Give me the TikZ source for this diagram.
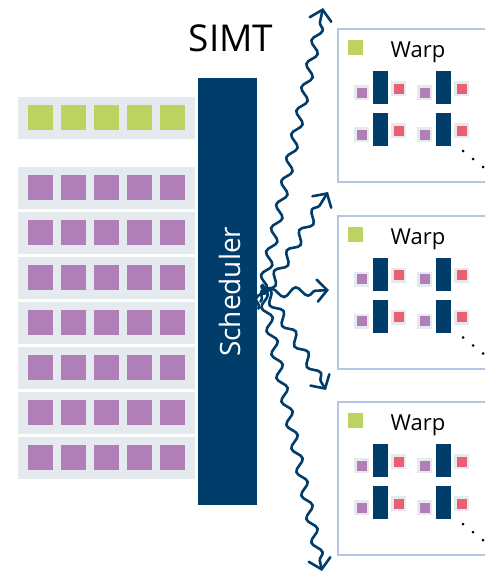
\documentclass[tikz,border=0pt]{standalone}
\usepackage{fontspec}
\setmainfont{Open Sans}
\usepackage{tikz}
\usetikzlibrary{arrows.meta, calc, positioning, decorations.pathmorphing}
\usepackage{xcolor}
\definecolor{navy}{HTML}{003D6B}
\definecolor{leaf}{HTML}{BCD35F}
\definecolor{lilac}{HTML}{B07FB8}
\definecolor{rose}{HTML}{EA5F74}
\definecolor{mist}{HTML}{E5EAEF}
\definecolor{frame}{HTML}{B4C5E6}
\tikzset{
    wave/.style={draw=navy, line width=2.6pt, line cap=round, -{Straight Barb[length=10pt,width=22pt,line cap=round]},
        decorate, decoration={snake, amplitude=4.5pt, segment length=24pt, pre length=2pt, post length=8pt}},
    warpbox/.style={draw=frame, line width=2, anchor=north west, minimum width=160, minimum height=153, inner sep=0},
}

\begin{document}
\begin{tikzpicture}[x=1pt, y=-1pt]
    \useasboundingbox (0,0) rectangle (485,573);
    \clip (0,0) rectangle (485,573);
    % register rows
    \fill[mist] (18,97) rectangle (195,139);
    \foreach \i in {0,...,4}
        \fill[leaf] (28+33*\i,105) rectangle ++(25,25);
    \foreach \j in {0,...,6} {
        \fill[mist] (18,167+45*\j) rectangle ++(177,42);
        \foreach \i in {0,...,4}
            \fill[lilac] (28+33*\i,175+45*\j) rectangle ++(25,25);
    }
    % scheduler
    \node[fill=navy, anchor=north west, minimum width=59, minimum height=427, inner sep=0] (sched) at (198,78) {};
    \node[rotate=90, white, font=\fontsize{28}{32}\selectfont] (schedtext) at ($(sched.center)+(2,0)$) {Scheduler};
    \node[anchor=base, font=\fontsize{37}{42}\selectfont] (simt) at (231,51.5) {SIMT};
    % warps
    \foreach \T/\n in {28/A, 214.5/B, 401/C} {
        \node[warpbox] (warp\n) at (337,\T) {};
        \fill[leaf] (348,\T+12) rectangle ++(15,15);
        \node[anchor=base, font=\fontsize{22}{26}\selectfont] (label\n) at (418,\T+29.5) {Warp};
        \foreach \bx in {373,436}
            \foreach \by in {43,85} {
                \fill[navy] (\bx,\T+\by) rectangle ++(15,33);
                \fill[mist] (\bx-19,\T+\by+14) rectangle ++(15,15);
                \fill[lilac] (\bx-16.5,\T+\by+16.5) rectangle ++(10,10);
                \fill[mist] (\bx+18,\T+\by+10) rectangle ++(15,15);
                \fill[rose] (\bx+20.5,\T+\by+12.5) rectangle ++(10,10);
            }
        \fill (463,\T+123) circle (1.5) (473,\T+131) circle (1.5) (483,\T+139) circle (1.5);
    }
    % dispatch
    \coordinate (tipA) at (323,8);
    \coordinate (tipB) at (328,192);
    \coordinate (tipC) at (329,290);
    \coordinate (tipD) at (326,390);
    \coordinate (tipE) at (322,571);
    \draw[wave] ([shift={(1,17)}]sched.east) -- (tipA);
    \draw[wave] ([shift={(3,10)}]sched.east) -- (tipB);
    \draw[wave] ([shift={(5,2)}]sched.east) -- (tipC);
    \draw[wave] ([shift={(5,-7)}]sched.east) -- (tipD);
    \draw[wave] ([shift={(4,-6)}]sched.east) -- (tipE);
\end{tikzpicture}
\end{document}
